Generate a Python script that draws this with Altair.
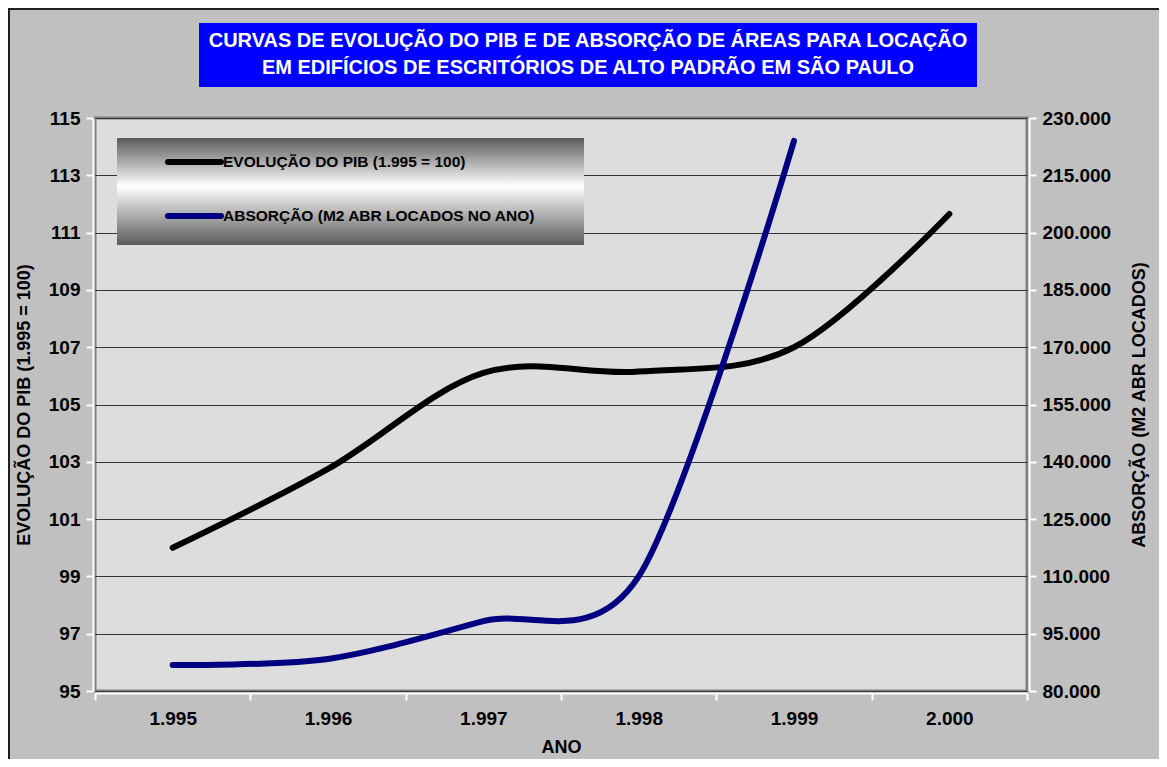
import altair as alt
import pandas as pd

# ---- data ----
anos = ["1.995", "1.996", "1.997", "1.998", "1.999", "2.000"]
pib = [100.0, 102.75, 106.1, 106.15, 107.0, 111.65]
anos_abs = ["1.995", "1.996", "1.997", "1.998", "1.999"]
absorcao = [86800, 88400, 98300, 110000, 224000]

serie_nomes = ["EVOLUÇÃO DO PIB (1.995 = 100)", "ABSORÇÃO (M2 ABR LOCADOS NO ANO)"]
serie_cores = ["#000000", "#000080"]

titulo = [
    "CURVAS DE EVOLUÇÃO DO PIB E DE ABSORÇÃO DE ÁREAS PARA LOCAÇÃO",
    "EM EDIFÍCIOS DE ESCRITÓRIOS DE ALTO PADRÃO EM SÃO PAULO",
]
pib_ticks = [95, 97, 99, 101, 103, 105, 107, 109, 111, 113, 115]
abs_ticks = [80000, 95000, 110000, 125000, 140000, 155000, 170000, 185000, 200000, 215000, 230000]

FONT = "Liberation Sans"
W, H = 932, 573
PL, PT, PR, PB = 87, 110, 132, 68

df_pib = pd.DataFrame({"ano": anos, "valor": pib})
df_abs = pd.DataFrame({"ano": anos_abs, "valor": absorcao})
deco = pd.DataFrame({"k": [0]})

x_enc = alt.X(
    "ano:O",
    sort=anos,
    bandPosition=0.5,
    scale=alt.Scale(type="band", domain=anos, paddingInner=0, paddingOuter=0),
    axis=alt.Axis(
        title="ANO", labelAngle=0, tickBand="extent",
        domainColor="white", domainWidth=2, tickColor="white", tickWidth=2, tickSize=7,
        labelFont=FONT, labelFontSize=19, labelFontWeight="bold", labelColor="black", labelPadding=9,
        titleFont=FONT, titleFontSize=18, titleFontWeight="bold", titleColor="black", titlePadding=10,
        offset=2,
    ),
)

line_pib = alt.Chart(df_pib).mark_line(
    color=serie_cores[0], strokeWidth=6, strokeCap="round", interpolate="cardinal"
).encode(
    x=x_enc,
    y=alt.Y(
        "valor:Q",
        scale=alt.Scale(domain=[95, 115], nice=False, zero=False),
        axis=alt.Axis(
            title="EVOLUÇÃO DO PIB (1.995 = 100)", values=pib_ticks, orient="left",
            grid=True, gridColor="#353535", gridWidth=1,
            domainColor="white", domainWidth=2, tickColor="white", tickWidth=2, tickSize=7,
            labelFont=FONT, labelFontSize=19, labelFontWeight="bold", labelColor="black", labelPadding=6,
            titleFont=FONT, titleFontSize=18, titleFontWeight="bold", titleColor="black", titlePadding=15,
            offset=2,
        ),
    ),
)

line_abs = alt.Chart(df_abs).mark_line(
    color=serie_cores[1], strokeWidth=6, strokeCap="round", interpolate="cardinal", tension=0.1
).encode(
    x=x_enc,
    y=alt.Y(
        "valor:Q",
        scale=alt.Scale(domain=[80000, 230000], nice=False, zero=False),
        axis=alt.Axis(
            title="ABSORÇÃO (M2 ABR LOCADOS)", values=abs_ticks, orient="right",
            labelExpr="replace(format(datum.value, ','), ',', '.')",
            grid=False,
            domainColor="white", domainWidth=2, tickColor="white", tickWidth=2, tickSize=7,
            labelFont=FONT, labelFontSize=19, labelFontWeight="bold", labelColor="black", labelPadding=6,
            titleFont=FONT, titleFontSize=18, titleFontWeight="bold", titleColor="black", titlePadding=20,
            titleAngle=270, titleBaseline="top",
            offset=2,
        ),
    ),
)

# ---- decorations ----
border = alt.Chart(deco).mark_rect(fill="#C0C0C0", fillOpacity=0, stroke="#202020", strokeWidth=2).encode(
    x=alt.value(-PL + 1), x2=alt.value(W + PR + 20),
    y=alt.value(-PT + 1), y2=alt.value(H + PB + 20),
)

title_box = alt.Chart(deco).mark_rect(color="#0000FF").encode(
    x=alt.value(104), x2=alt.value(882), y=alt.value(-95), y2=alt.value(-31)
)
title1 = alt.Chart(deco).mark_text(
    text=titulo[0], color="white", font=FONT, fontSize=20, fontWeight="bold", align="center", baseline="middle"
).encode(x=alt.value(493), y=alt.value(-77))
title2 = alt.Chart(deco).mark_text(
    text=titulo[1], color="white", font=FONT, fontSize=20, fontWeight="bold", align="center", baseline="middle"
).encode(x=alt.value(493), y=alt.value(-50))

legend_box = alt.Chart(deco).mark_rect(
    color=alt.LinearGradient(
        gradient="linear", x1=0, x2=0, y1=0, y2=1,
        stops=[
            alt.GradientStop(offset=0, color="#5a5a5a"),
            alt.GradientStop(offset=0.45, color="#ffffff"),
            alt.GradientStop(offset=1, color="#5a5a5a"),
        ],
    )
).encode(x=alt.value(22), x2=alt.value(489), y=alt.value(20), y2=alt.value(127))

legend_layers = []
for i, (nome, cor) in enumerate(zip(serie_nomes, serie_cores)):
    yy = 44 + i * 54
    legend_layers.append(
        alt.Chart(deco).mark_rule(color=cor, strokeWidth=6, strokeCap="round").encode(
            x=alt.value(73), x2=alt.value(126), y=alt.value(yy)
        )
    )
    legend_layers.append(
        alt.Chart(deco).mark_text(
            text=nome, color="black", font=FONT, fontSize=15.5, fontWeight="bold", align="left", baseline="middle"
        ).encode(x=alt.value(128), y=alt.value(yy))
    )

chart = alt.layer(
    border, title_box, title1, title2, line_pib, line_abs, legend_box, *legend_layers
).resolve_scale(y="independent").properties(
    width=W, height=H,
    padding={"left": PL, "top": PT, "right": PR, "bottom": PB},
    autosize=alt.AutoSizeParams(type="none"),
    background="#C0C0C0",
).configure_view(
    fill="#DDDDDD", stroke="#808080", strokeWidth=3
)

chart.save("out.html", embed_options={"renderer": "svg", "actions": False})
